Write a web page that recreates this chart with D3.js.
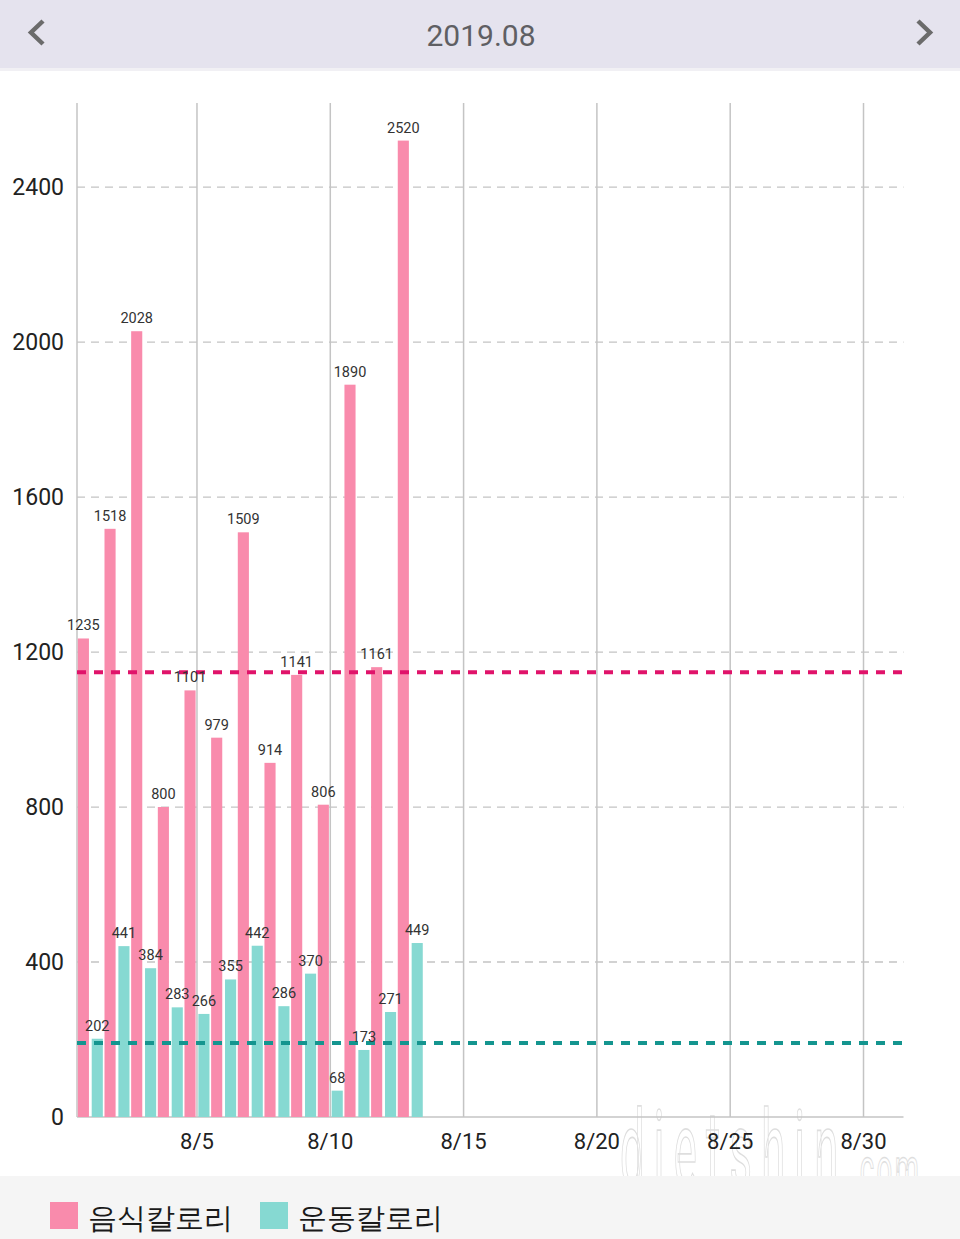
<!DOCTYPE html>
<html>
<head>
<meta charset="utf-8">
<script src="https://cdn.jsdelivr.net/npm/d3@7"></script>
<style>
  body { margin: 0; background: #fff; }
  text { font-family: Roboto, "Noto Sans", sans-serif; }
</style>
</head>
<body>
<script>
// daily values, 2019.08
const days = [1, 2, 3, 4, 5, 6, 7, 8, 9, 10, 11, 12, 13];
const foodKcal = [1235, 1518, 2028, 800, 1101, 979, 1509, 914, 1141, 806, 1890, 1161, 2520];
const exerciseKcal = [202, 441, 384, 283, 266, 355, 442, 286, 370, 68, 173, 271, 449];
const foodRef = 1148;
const exerciseRef = 191;
const yTicks = [0, 400, 800, 1200, 1600, 2000, 2400];
const xTicks = [5, 10, 15, 20, 25, 30];
const seriesNames = ["음식칼로리", "운동칼로리"];

const chartDimensions = {
    height: 1239,
    width: 960,
    margin: { top: 103, left: 77, bottom: 122, right: 57 }
};
const colors = {
    food: "#F98BAC",
    exercise: "#86D9D2",
    foodLine: "#E0136A",
    exerciseLine: "#14958F",
    grid: "#C4C4C4"
};

let svg = d3.select("body")
    .append("svg")
    .attr("width", chartDimensions.width)
    .attr("height", chartDimensions.height);

// header bar
svg.append("rect")
    .attr("x", 0).attr("y", 0)
    .attr("width", chartDimensions.width).attr("height", 68)
    .attr("fill", "#E5E3EE");
svg.append("rect")
    .attr("x", 0).attr("y", 68)
    .attr("width", chartDimensions.width).attr("height", 3)
    .attr("fill", "#F1F0F4");
svg.append("text")
    .attr("x", 481).attr("y", 46)
    .attr("text-anchor", "middle")
    .attr("font-size", 30)
    .attr("fill", "#5f5f63")
    .text("2019.08");
svg.append("polyline")
    .attr("points", "43,21 31,32.5 43,44")
    .attr("fill", "none").attr("stroke", "#6b6b6b").attr("stroke-width", 4.5);
svg.append("polyline")
    .attr("points", "918,21 930,32.5 918,44")
    .attr("fill", "none").attr("stroke", "#6b6b6b").attr("stroke-width", 4.5);

const plotBottom = chartDimensions.height - chartDimensions.margin.bottom; // 1117
const plotRight = chartDimensions.width - chartDimensions.margin.right + 0.5;

let x = d3.scaleLinear()
    .domain([0.5, 31.5])
    .range([chartDimensions.margin.left, plotRight]);
let y = d3.scaleLinear()
    .domain([0, 2617])
    .range([plotBottom, chartDimensions.margin.top]);
let inner = d3.scaleBand()
    .domain(["food", "exercise"])
    .range([-12.5, 12.5])
    .paddingInner(0.2);

// watermark (drawn under the axis labels)
let wm = svg.append("g")
    .attr("fill", "#ffffff")
    .attr("fill-opacity", 0.5)
    .attr("stroke", "#dedede")
    .attr("stroke-width", 1.1)
    .attr("font-family", "'DejaVu Sans Condensed', sans-serif");
wm.append("text")
    .attr("transform", "translate(620,1188) scale(0.62,1.55)")
    .attr("font-size", 70)
    .attr("letter-spacing", 15)
    .text("dietshin");
wm.append("text")
    .attr("transform", "translate(850,1188) scale(0.6,1.25)")
    .attr("font-size", 46)
    .attr("letter-spacing", 4)
    .text(".com");

// horizontal dashed grid
svg.append("g")
    .selectAll("line")
    .data(yTicks.filter(t => t > 0))
    .enter()
    .append("line")
    .attr("x1", x(0.5)).attr("x2", plotRight)
    .attr("y1", d => y(d)).attr("y2", d => y(d))
    .attr("stroke", colors.grid)
    .attr("stroke-width", 1.3)
    .attr("stroke-dasharray", "8,6");

// vertical grid
svg.append("g")
    .selectAll("line")
    .data([0.5].concat(xTicks))
    .enter()
    .append("line")
    .attr("x1", d => x(d)).attr("x2", d => x(d))
    .attr("y1", chartDimensions.margin.top).attr("y2", plotBottom)
    .attr("stroke", colors.grid)
    .attr("stroke-width", 1.5);

// x axis line
svg.append("line")
    .attr("x1", x(0.5)).attr("x2", plotRight)
    .attr("y1", plotBottom).attr("y2", plotBottom)
    .attr("stroke", colors.grid)
    .attr("stroke-width", 1.5);

// y tick labels
svg.append("g")
    .selectAll("text")
    .data(yTicks)
    .enter()
    .append("text")
    .attr("x", 64)
    .attr("y", d => y(d) + 8)
    .attr("text-anchor", "end")
    .attr("font-size", 23)
    .attr("fill", "#222")
    .text(d => d);

// x tick labels
svg.append("g")
    .selectAll("text")
    .data(xTicks)
    .enter()
    .append("text")
    .attr("x", d => x(d))
    .attr("y", plotBottom + 32)
    .attr("text-anchor", "middle")
    .attr("font-size", 22)
    .attr("fill", "#222")
    .text(d => "8/" + d);

// bars
const rows = days.map((d, i) => ({ day: d, food: foodKcal[i], exercise: exerciseKcal[i] }));
["food", "exercise"].forEach(key => {
    let g = svg.append("g");
    g.selectAll("rect")
        .data(rows)
        .enter()
        .append("rect")
        .attr("x", d => x(d.day) + inner(key))
        .attr("y", d => y(d[key]))
        .attr("width", inner.bandwidth())
        .attr("height", d => plotBottom - y(d[key]))
        .attr("fill", colors[key]);
});

// reference lines
[[foodRef, colors.foodLine], [exerciseRef, colors.exerciseLine]].forEach(([v, c]) => {
    svg.append("line")
        .attr("x1", x(0.5)).attr("x2", plotRight + 2)
        .attr("y1", y(v)).attr("y2", y(v))
        .attr("stroke", c)
        .attr("stroke-width", 4)
        .attr("stroke-dasharray", "9,8");
});

// value labels
["food", "exercise"].forEach(key => {
    svg.append("g")
        .selectAll("text")
        .data(rows)
        .enter()
        .append("text")
        .attr("x", d => x(d.day) + inner(key) + inner.bandwidth() / 2)
        .attr("y", d => y(d[key]) - 8)
        .attr("text-anchor", "middle")
        .attr("font-size", 14.5)
        .attr("fill", "#333")
        .text(d => d[key]);
});

// legend
svg.append("rect")
    .attr("x", 0).attr("y", 1176)
    .attr("width", chartDimensions.width).attr("height", 63)
    .attr("fill", "#F5F5F5");
let legend = svg.append("g")
    .selectAll("g")
    .data(seriesNames)
    .enter()
    .append("g")
    .attr("transform", (d, i) => `translate(${50 + i * 210},1202)`);
legend.append("rect")
    .attr("width", 28).attr("height", 27)
    .attr("fill", (d, i) => i === 0 ? colors.food : colors.exercise);
legend.append("text")
    .attr("x", 38).attr("y", 26)
    .attr("font-family", "'Noto Sans CJK KR', sans-serif")
    .attr("font-size", 29)
    .attr("fill", "#1a1a1a")
    .text(d => d);
</script>
</body>
</html>
